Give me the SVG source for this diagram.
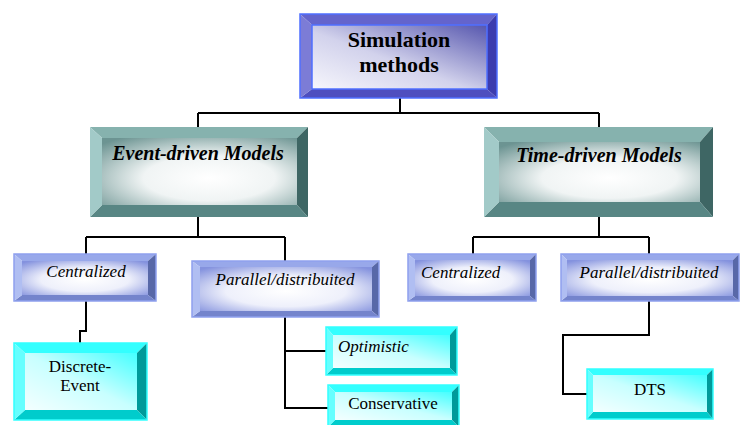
<svg xmlns="http://www.w3.org/2000/svg" width="746" height="425" viewBox="0 0 746 425" font-family="Liberation Serif, serif">
<defs>
<linearGradient id="gPurple" x1="0" y1="1" x2="1" y2="0">
<stop offset="0" stop-color="#f6f6fc"/><stop offset="0.45" stop-color="#d2d2ec"/><stop offset="1" stop-color="#5656ae"/>
</linearGradient>
<radialGradient id="gTeal" cx="0.55" cy="0.6" r="0.75">
<stop offset="0" stop-color="#ffffff"/><stop offset="0.45" stop-color="#f0f4f4"/><stop offset="1" stop-color="#6c9492"/>
</radialGradient>
<radialGradient id="gBlue" cx="0.5" cy="0.55" r="0.7">
<stop offset="0" stop-color="#ffffff"/><stop offset="0.5" stop-color="#eef0fb"/><stop offset="1" stop-color="#8492de"/>
</radialGradient>
<linearGradient id="gCyan" x1="0" y1="1" x2="1" y2="0">
<stop offset="0" stop-color="#f4ffff"/><stop offset="0.5" stop-color="#c8ffff"/><stop offset="1" stop-color="#44ffff"/>
</linearGradient>
</defs>
<style>
.purple .t{fill:#6464cc}.purple .r{fill:#3c3cae}.purple .b{fill:#4e4ebf}.purple .l{fill:#7c7cd6}.purple .in{fill:url(#gPurple)}
.purple .o{fill:none;stroke:#4f6fff;stroke-width:1.5}
.teal .t{fill:#86b2ae}.teal .r{fill:#3e6664}.teal .b{fill:#588684}.teal .l{fill:#a2cac8}.teal .in{fill:url(#gTeal)}
.blue .t{fill:#98a8ea}.blue .r{fill:#5868a8}.blue .b{fill:#7484cc}.blue .l{fill:#b0bef2}.blue .in{fill:url(#gBlue)}
.blue .o{fill:none;stroke:#8ea0ee;stroke-width:1.5}
.cyan .t{fill:#33ffff}.cyan .r{fill:#009a9a}.cyan .b{fill:#00cccc}.cyan .l{fill:#66ffff}.cyan .in{fill:url(#gCyan)}
.cyan .o{fill:none;stroke:#33ffff;stroke-width:1.5}
text{font-family:'Liberation Serif',serif;fill:#000}
.big{font-size:22px;font-weight:bold}
.mid{font-size:20px;font-weight:bold;font-style:italic}
.sm{font-size:17px;font-style:italic}
.rg{font-size:17px}
#connectors path{fill:none;stroke:#000;stroke-width:2}
</style>
<g id="connectors">
<path d="M400,98 V113 M198,113 H599 M198,113 V127 M599,113 V127"/>
<path d="M198,217 V237 M86,237 H285 M86,237 V254 M285,237 V261"/>
<path d="M86,301 V331 H80 V343"/>
<path d="M285,317 V408 H328 M285,351 H326"/>
<path d="M599,217 V237 M473,237 H649 M473,237 V254 M649,237 V254"/>
<path d="M649,301 V335 H563 V394 H587"/>
</g>
<g id="simulation-methods" class="purple">
<polygon class="t" points="300,14 497,14 487,25 312,25"/>
<polygon class="r" points="497,14 497,98 487,89 487,25"/>
<polygon class="b" points="300,98 497,98 487,89 312,89"/>
<polygon class="l" points="300,14 312,25 312,89 300,98"/>
<rect class="in" x="312" y="25" width="175" height="64"/>
<rect class="o" x="300" y="14" width="197" height="84"/>
<rect class="o" x="312" y="25" width="175" height="64"/>
<text class="big" font-family="Liberation Serif" x="399" y="47" text-anchor="middle">Simulation</text>
<text class="big" font-family="Liberation Serif" x="399" y="72" text-anchor="middle">methods</text>
</g>
<g id="event-driven" class="teal">
<polygon class="t" points="90,127 308,127 297,138 102,138"/>
<polygon class="r" points="308,127 308,217 297,205 297,138"/>
<polygon class="b" points="90,217 308,217 297,205 102,205"/>
<polygon class="l" points="90,127 102,138 102,205 90,217"/>
<rect class="in" x="102" y="138" width="195" height="67"/>
<text class="mid" font-family="Liberation Serif" x="198" y="160" text-anchor="middle">Event-driven Models</text>
</g>
<g id="time-driven" class="teal">
<polygon class="t" points="484,127 713,127 700,142 499,142"/>
<polygon class="r" points="713,127 713,217 700,202 700,142"/>
<polygon class="b" points="484,217 713,217 700,202 499,202"/>
<polygon class="l" points="484,127 499,142 499,202 484,217"/>
<rect class="in" x="499" y="142" width="201" height="60"/>
<text class="mid" font-family="Liberation Serif" x="599" y="162" text-anchor="middle">Time-driven Models</text>
</g>
<g id="centralized-left" class="blue">
<polygon class="t" points="14,254 156,254 148,261 22,261"/>
<polygon class="r" points="156,254 156,301 148,295 148,261"/>
<polygon class="b" points="14,301 156,301 148,295 22,295"/>
<polygon class="l" points="14,254 22,261 22,295 14,301"/>
<rect class="in" x="22" y="261" width="126" height="34"/>
<rect class="o" x="14" y="254" width="142" height="47"/>
<text class="sm" font-family="Liberation Serif" x="86" y="277" text-anchor="middle">Centralized</text>
</g>
<g id="parallel-left" class="blue">
<polygon class="t" points="192,261 379,261 372,267 200,267"/>
<polygon class="r" points="379,261 379,317 372,311 372,267"/>
<polygon class="b" points="192,317 379,317 372,311 200,311"/>
<polygon class="l" points="192,261 200,267 200,311 192,317"/>
<rect class="in" x="200" y="267" width="172" height="44"/>
<rect class="o" x="192" y="261" width="187" height="56"/>
<text class="sm" font-family="Liberation Serif" x="285" y="285" text-anchor="middle">Parallel/distribuited</text>
</g>
<g id="centralized-right" class="blue">
<polygon class="t" points="408,254 536,254 530,260 415,260"/>
<polygon class="r" points="536,254 536,301 530,296 530,260"/>
<polygon class="b" points="408,301 536,301 530,296 415,296"/>
<polygon class="l" points="408,254 415,260 415,296 408,301"/>
<rect class="in" x="415" y="260" width="115" height="36"/>
<rect class="o" x="408" y="254" width="128" height="47"/>
<text class="sm" font-family="Liberation Serif" x="421" y="278">Centralized</text>
</g>
<g id="parallel-right" class="blue">
<polygon class="t" points="561,254 739,254 733,260 567,260"/>
<polygon class="r" points="739,254 739,301 733,296 733,260"/>
<polygon class="b" points="561,301 739,301 733,296 567,296"/>
<polygon class="l" points="561,254 567,260 567,296 561,301"/>
<rect class="in" x="567" y="260" width="166" height="36"/>
<rect class="o" x="561" y="254" width="178" height="47"/>
<text class="sm" font-family="Liberation Serif" x="649" y="278" text-anchor="middle">Parallel/distribuited</text>
</g>
<g id="discrete-event" class="cyan">
<polygon class="t" points="14,343 147,343 137,353 25,353"/>
<polygon class="r" points="147,343 147,420 137,410 137,353"/>
<polygon class="b" points="14,420 147,420 137,410 25,410"/>
<polygon class="l" points="14,343 25,353 25,410 14,420"/>
<rect class="in" x="25" y="353" width="112" height="57"/>
<rect class="o" x="14" y="343" width="133" height="77"/>
<text class="rg" font-family="Liberation Serif" x="80" y="372" text-anchor="middle">Discrete-</text>
<text class="rg" font-family="Liberation Serif" x="80" y="391" text-anchor="middle">Event</text>
</g>
<g id="optimistic" class="cyan">
<polygon class="t" points="326,327 457,327 450,335 333,335"/>
<polygon class="r" points="457,327 457,375 450,368 450,335"/>
<polygon class="b" points="326,375 457,375 450,368 333,368"/>
<polygon class="l" points="326,327 333,335 333,368 326,375"/>
<rect class="in" x="333" y="335" width="117" height="33"/>
<rect class="o" x="326" y="327" width="131" height="48"/>
<text class="sm" font-family="Liberation Serif" x="338" y="352">Optimistic</text>
</g>
<g id="conservative" class="cyan">
<polygon class="t" points="328,385 459,385 452,392 335,392"/>
<polygon class="r" points="459,385 459,427 452,420 452,392"/>
<polygon class="b" points="328,427 459,427 452,420 335,420"/>
<polygon class="l" points="328,385 335,392 335,420 328,427"/>
<rect class="in" x="335" y="392" width="117" height="28"/>
<rect class="o" x="328" y="385" width="131" height="42"/>
<text class="rg" font-family="Liberation Serif" x="393" y="409" text-anchor="middle">Conservative</text>
</g>
<g id="dts" class="cyan">
<polygon class="t" points="587,369 713,369 707,375 593,375"/>
<polygon class="r" points="713,369 713,419 707,412 707,375"/>
<polygon class="b" points="587,419 713,419 707,412 593,412"/>
<polygon class="l" points="587,369 593,375 593,412 587,419"/>
<rect class="in" x="593" y="375" width="114" height="37"/>
<rect class="o" x="587" y="369" width="126" height="50"/>
<text class="rg" font-family="Liberation Serif" x="650" y="395" text-anchor="middle">DTS</text>
</g>
</svg>
